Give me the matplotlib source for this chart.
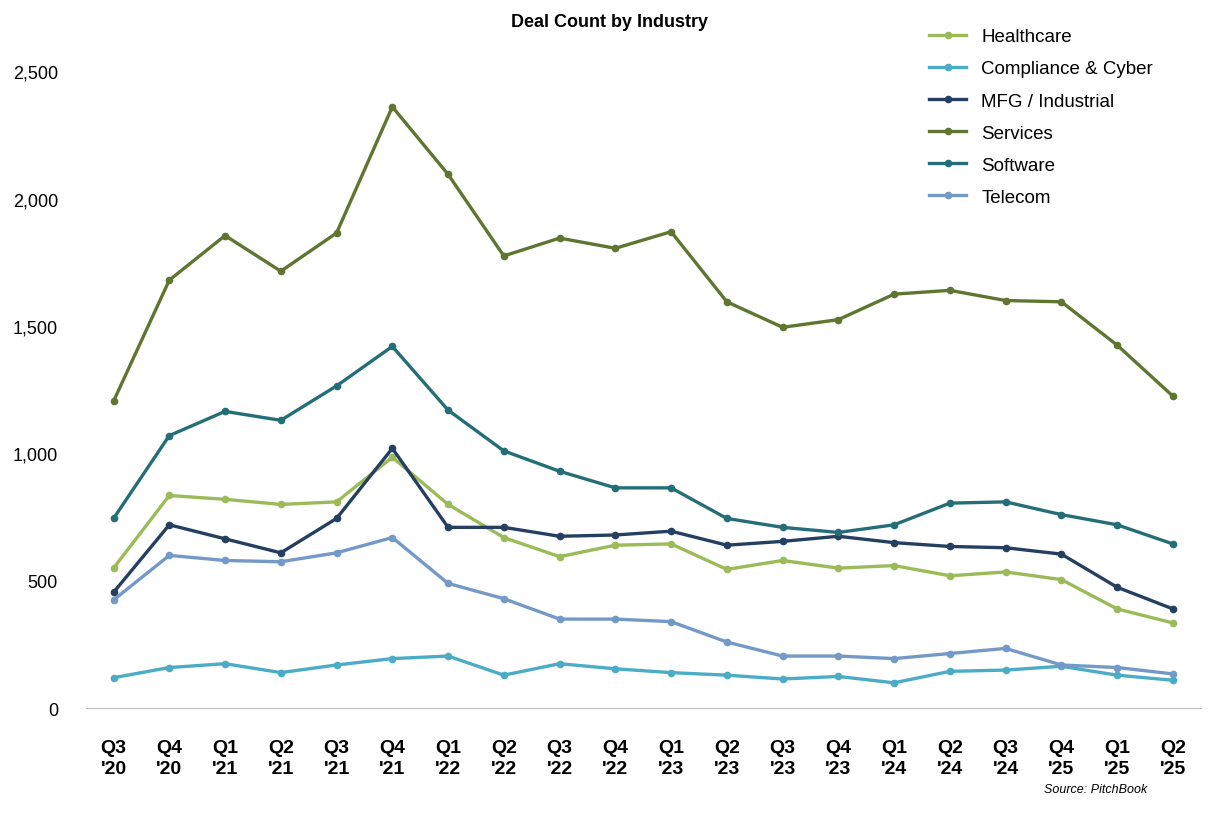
import matplotlib.pyplot as plt
import numpy as np

plt.rcParams["font.family"] = ["Liberation Sans", "DejaVu Sans"]

quarters = ["Q3\n'20", "Q4\n'20", "Q1\n'21", "Q2\n'21", "Q3\n'21", "Q4\n'21", "Q1\n'22", "Q2\n'22",
            "Q3\n'22", "Q4\n'22", "Q1\n'23", "Q2\n'23", "Q3\n'23", "Q4\n'23", "Q1\n'24", "Q2\n'24",
            "Q3\n'24", "Q4\n'25", "Q1\n'25", "Q2\n'25"]

healthcare = [550, 835, 820, 800, 810, 985, 800, 670, 595, 640, 645, 545, 580, 550, 560, 520, 535, 505, 390, 335]
compliance = [120, 160, 175, 140, 170, 195, 205, 130, 175, 155, 140, 130, 115, 125, 100, 145, 150, 165, 130, 110]
mfg = [455, 720, 665, 610, 745, 1020, 710, 710, 675, 680, 695, 640, 655, 675, 650, 635, 630, 605, 475, 390]
services = [1205, 1680, 1855, 1715, 1865, 2360, 2095, 1775, 1845, 1805, 1870, 1595, 1495, 1525, 1625, 1640, 1600, 1595, 1425, 1225]
software = [745, 1070, 1165, 1130, 1265, 1420, 1170, 1010, 930, 865, 865, 745, 710, 690, 720, 805, 810, 760, 720, 645]
telecom = [425, 600, 580, 575, 610, 670, 490, 430, 350, 350, 340, 260, 205, 205, 195, 215, 235, 170, 160, 135]

series = [
    ("Healthcare", healthcare, "#9BBB59"),
    ("Compliance & Cyber", compliance, "#4BACC6"),
    ("MFG / Industrial", mfg, "#243F60"),
    ("Services", services, "#5F7530"),
    ("Software", software, "#246E78"),
    ("Telecom", telecom, "#7399C6"),
]

fig = plt.figure(figsize=(12.24, 8.2), dpi=100)
ax = fig.add_axes([0.070, 0.135, 0.911, 0.777])
x = np.arange(len(quarters))
for name, vals, color in series:
    ax.plot(x, vals, color=color, lw=2.4, marker="o", ms=4.5, label=name)

ax.set_xlim(-0.5, len(quarters) - 0.5)
ax.set_ylim(0, 2500)
ax.set_yticks(range(0, 2501, 500))
ax.set_yticklabels([f"{v:,}" for v in range(0, 2501, 500)], fontsize=13)
ax.set_xticks(x)
ax.set_xticklabels(quarters, fontsize=14, fontweight="bold", linespacing=1.3)
ax.tick_params(axis="x", length=0, pad=22)
ax.tick_params(axis="y", length=0, pad=20)
for s in ["top", "right", "left"]:
    ax.spines[s].set_visible(False)
ax.spines["bottom"].set_color("#bfbfbf")

fig.text(0.498, 0.972, "Deal Count by Industry", ha="center", va="center", fontsize=13, fontweight="bold")
fig.legend(loc="upper left", bbox_to_anchor=(0.745, 0.985), frameon=False, fontsize=13.5,
           handlelength=2.0, labelspacing=0.8)
fig.text(0.937, 0.036, "Source: PitchBook", ha="right", va="center", fontsize=9, style="italic")

fig.savefig("out.png", dpi=100)
